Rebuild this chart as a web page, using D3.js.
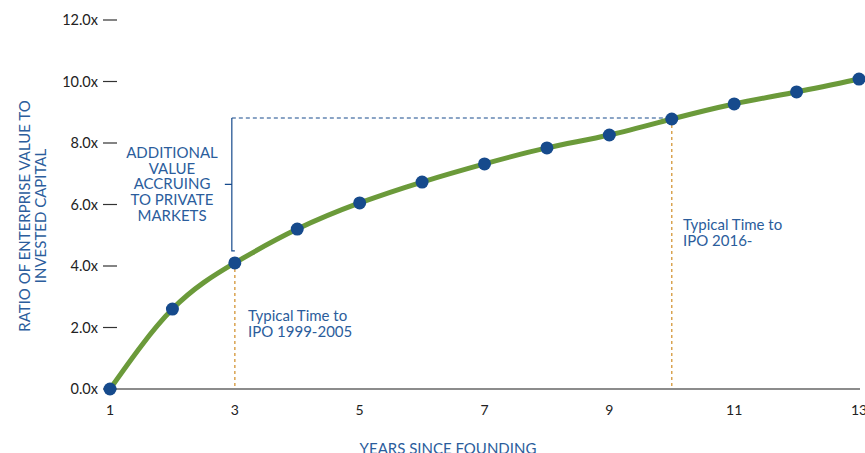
<!DOCTYPE html>
<html>
<head>
<meta charset="utf-8">
<script src="https://cdn.jsdelivr.net/npm/d3@7/dist/d3.min.js"></script>
<style>
  html, body { margin: 0; padding: 0; background: #fff; }
  svg { display: block; }
  text { font-family: Lato, "Open Sans", sans-serif; }
</style>
</head>
<body>
<svg id="chart" width="865" height="453"></svg>
<script>
// Years since founding and the EV / invested capital multiple at each year
const years = [1, 2, 3, 4, 5, 6, 7, 8, 9, 10, 11, 12, 13];
const ratios = [0, 2.6, 4.1, 5.2, 6.05, 6.73, 7.32, 7.84, 8.26, 8.78, 9.27, 9.66, 10.08];
const yTicks = [0, 2, 4, 6, 8, 10, 12];
const xTicks = [1, 3, 5, 7, 9, 11, 13];
const ipoEarly = 3;   // typical IPO year 1999-2005
const ipoLate = 10;   // typical IPO year 2016-

const svg = d3.select("#chart");
const blue = "#2b5d9c";
const navy = "#164a8c";
const green = "#6b9a3a";
const orange = "#d9a351";

const x = d3.scaleLinear().domain([1, 13]).range([110, 859]);
const y = d3.scaleLinear().domain([0, 12]).range([389, 20]);

// Y axis: labels with a short dash to the right
const yAxis = svg.append("g");
yAxis.selectAll("line").data(yTicks).join("line")
  .attr("x1", 103).attr("x2", 117)
  .attr("y1", d => y(d)).attr("y2", d => y(d))
  .attr("stroke", "#333").attr("stroke-width", 1.2);
yAxis.selectAll("text").data(yTicks).join("text")
  .attr("x", 98).attr("y", d => y(d)).attr("dy", "0.35em")
  .attr("text-anchor", "end").attr("font-size", 14.5).attr("fill", "#222")
  .text(d => d.toFixed(1) + "x");

// X axis baseline and labels
svg.append("line")
  .attr("x1", x(1)).attr("x2", 860)
  .attr("y1", y(0)).attr("y2", y(0))
  .attr("stroke", "#666").attr("stroke-width", 1.5);
svg.append("g").selectAll("text").data(xTicks).join("text")
  .attr("x", d => x(d)).attr("y", 415)
  .attr("text-anchor", "middle").attr("font-size", 14).attr("fill", "#222")
  .text(d => d);

// Axis titles
svg.append("text")
  .attr("transform", "translate(30,216) rotate(-90)")
  .attr("text-anchor", "middle").attr("font-size", 15).attr("fill", blue)
  .selectAll("tspan").data(["RATIO OF ENTERPRISE VALUE TO", "INVESTED CAPITAL"]).join("tspan")
  .attr("x", 0).attr("dy", (d, i) => i ? 16 : 0).text(d => d);
svg.append("text")
  .attr("x", 448).attr("y", 454).attr("text-anchor", "middle")
  .attr("font-size", 15).attr("fill", blue)
  .text("YEARS SINCE FOUNDING");

// Vertical IPO markers
[ipoEarly, ipoLate].forEach(yr => {
  svg.append("line")
    .attr("x1", x(yr)).attr("x2", x(yr))
    .attr("y1", y(ratios[years.indexOf(yr)]) + 6).attr("y2", y(0))
    .attr("stroke", orange).attr("stroke-width", 1.5)
    .attr("stroke-dasharray", "3,3");
});

// Bracket showing the added value between the two IPO timings
const vEarly = ratios[years.indexOf(ipoEarly)];
const vLate = ratios[years.indexOf(ipoLate)];
const bx = x(ipoEarly) - 3;
const bTop = y(vLate) - 1;
const bBot = y(vEarly) - 12;
svg.append("line")
  .attr("x1", bx).attr("x2", x(ipoLate))
  .attr("y1", bTop).attr("y2", bTop)
  .attr("stroke", navy).attr("stroke-width", 1.2)
  .attr("stroke-dasharray", "4,3");
svg.append("path")
  .attr("d", `M${bx},${bTop} V${bBot} h3 M${bx},${(bTop + bBot) / 2} h-7`)
  .attr("fill", "none").attr("stroke", navy).attr("stroke-width", 1.2);

svg.append("text")
  .attr("text-anchor", "middle").attr("font-size", 15).attr("fill", blue)
  .selectAll("tspan").data(["ADDITIONAL", "VALUE", "ACCRUING", "TO PRIVATE", "MARKETS"]).join("tspan")
  .attr("x", 172).attr("y", (d, i) => 158 + i * 15.7).text(d => d);

// IPO timing annotations
function note(px, py, lines) {
  svg.append("text").attr("font-size", 15).attr("fill", blue)
    .selectAll("tspan").data(lines).join("tspan")
    .attr("x", px).attr("y", (d, i) => py + i * 15.5).text(d => d);
}
note(248, 321, ["Typical Time to", "IPO 1999-2005"]);
note(683, 230, ["Typical Time to", "IPO 2016-"]);

// Growth curve and points
const line = d3.line()
  .x((d, i) => x(years[i]))
  .y(d => y(d))
  .curve(d3.curveNatural);
svg.append("path")
  .datum(ratios)
  .attr("d", line)
  .attr("fill", "none").attr("stroke", green).attr("stroke-width", 5)
  .attr("stroke-linecap", "round");
svg.append("g").selectAll("circle").data(ratios).join("circle")
  .attr("cx", (d, i) => x(years[i])).attr("cy", d => y(d))
  .attr("r", 6.5).attr("fill", navy);
</script>
</body>
</html>
